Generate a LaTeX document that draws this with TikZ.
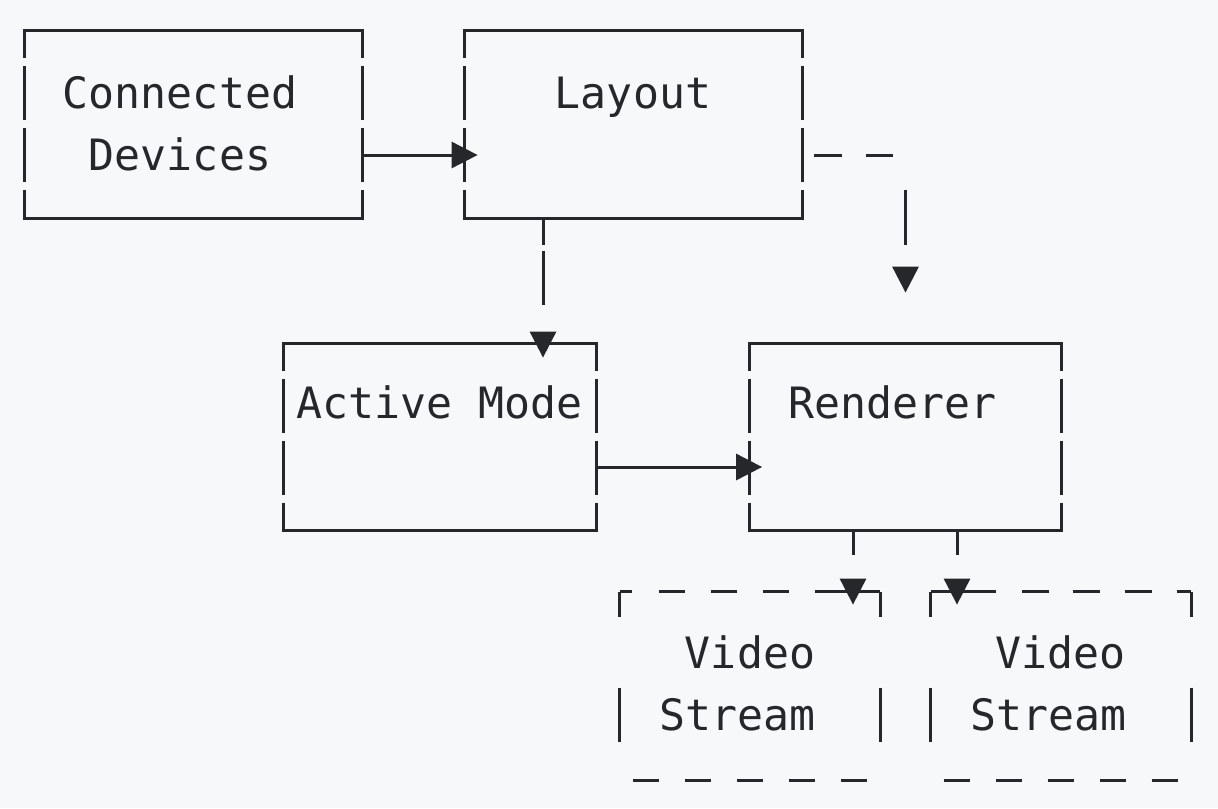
\documentclass[tikz,border=0pt]{standalone}
\usepackage{fontspec}
\newfontfamily\asciifont{DejaVu Sans Mono}
\usepackage{xcolor}
\usepackage{tikz}
\usetikzlibrary{arrows.meta, calc}

\definecolor{ink}{HTML}{25272B}
\definecolor{paper}{HTML}{F7F8FA}

\begin{document}
\begin{tikzpicture}[
  x=0.5pt, y=-0.5pt,
  box/.style={inner sep=0pt, minimum width=168.5pt, minimum height=93.5pt},
  smallbox/.style={inner sep=0pt, minimum width=156pt, minimum height=93pt},
  vidbox/.style={inner sep=0pt, minimum width=130pt, minimum height=94pt},
  txt/.style={inner sep=0pt, anchor=base, text=ink, font={\asciifont\fontsize{21.6pt}{26pt}\selectfont}},
  edge/.style={draw=ink, line width=1.5pt, line cap=rect},
  wall/.style={draw=ink, line width=1.5pt, dash pattern=on 27pt off 4pt, dash phase=13.5pt},
  thin/.style={draw=ink, line width=1.5pt},
  arr/.style={-{Triangle[length=13pt, width=13pt]}, draw=ink, line width=1.5pt},
]
  % Background
  \fill[paper] (0,0) rectangle (1218,808);

  % Boxes
  \node[box] (dev) at (193.5, 124.5) {};
  \node[box] (lay) at (633.5, 124.5) {};
  \node[smallbox] (act) at (440, 437) {};
  \node[smallbox] (ren) at (905.5, 437) {};
  \node[vidbox] (vidA) at (750, 686) {};
  \node[vidbox] (vidB) at (1061, 686) {};

  % Labels
  \node[txt] (devtop) at (180, 108) {Connected};
  \node[txt] (devbot) at (180, 170) {Devices};
  \node[txt] (laytxt) at (633, 108) {Layout};
  \node[txt] (acttxt) at (439.5, 418) {Active Mode};
  \node[txt] (rentxt) at (892.5, 418) {Renderer};
  \node[txt] (vidAtop) at (750, 668) {Video};
  \node[txt] (vidAbot) at (737.5, 730) {Stream};
  \node[txt] (vidBtop) at (1060.5, 668) {Video};
  \node[txt] (vidBbot) at (1048.5, 730) {Stream};

  % Solid outlines
  \draw[edge] (dev.north west) -- (dev.north east) (dev.south west) -- (dev.south east);
  \draw[wall] (dev.north west) -- (dev.south west) (dev.north east) -- (dev.south east);
  \draw[edge] (lay.north west) -- (lay.north east) (lay.south west) -- (lay.south east);
  \draw[wall] (lay.north west) -- (lay.south west) (lay.north east) -- (lay.south east);
  \draw[edge] (act.north west) -- (act.north east) (act.south west) -- (act.south east);
  \draw[wall] (act.north west) -- (act.south west) (act.north east) -- (act.south east);
  \draw[edge] (ren.north west) -- (ren.north east) (ren.south west) -- (ren.south east);
  \draw[wall] (ren.north west) -- (ren.south west) (ren.north east) -- (ren.south east);

  % Dashed outlines
  \draw[thin, dash pattern=on 6pt off 13.5pt on 13pt off 13pt on 13pt off 13pt on 13pt off 13pt on 32.5pt]
    (vidA.north west) -- (vidA.north east);
  \draw[thin, dash pattern=on 32.5pt off 13pt on 13.5pt off 12pt on 13.5pt off 12.5pt on 13.5pt off 12.5pt on 7pt]
    (vidB.north west) -- (vidB.north east);
  \draw[thin, dash pattern=on 13pt off 13pt, dash phase=19.5pt]
    (vidA.south west) -- (vidA.south east) (vidB.south west) -- (vidB.south east);
  \draw[thin, dash pattern=on 12.5pt off 35.5pt on 27pt off 30pt]
    (vidA.north west) -- (vidA.south west) (vidA.north east) -- (vidA.south east)
    (vidB.north west) -- (vidB.south west) (vidB.north east) -- (vidB.south east);

  % Arrows
  \draw[arr] ($(dev.east)+(0,30.5)$) -- ($(lay.west)+(13,30.5)$);
  \draw[arr, dash pattern=on 0pt off 6pt on 14pt off 12pt on 13.5pt off 23.5pt on 27.5pt off 60pt]
    ($(lay.east)+(0,30.5)$) -| ($(ren.north)+(0,-51)$);
  \draw[arr, dash pattern=on 13.5pt off 3pt on 27pt off 20pt]
    ($(lay.south)+(-90.5,0)$) -- ($(act.north)+(103,14)$);
  \draw[arr] ($(act.east)+(0,30)$) -- ($(ren.west)+(13,30)$);
  \draw[arr, dash pattern=on 12.5pt off 20pt]
    ($(ren.south)+(-52.5,0)$) -- ($(vidA.north)+(103,13)$);
  \draw[arr, dash pattern=on 12.5pt off 20pt]
    ($(ren.south)+(51.5,0)$) -- ($(vidB.north)+(-104,13)$);
\end{tikzpicture}
\end{document}
